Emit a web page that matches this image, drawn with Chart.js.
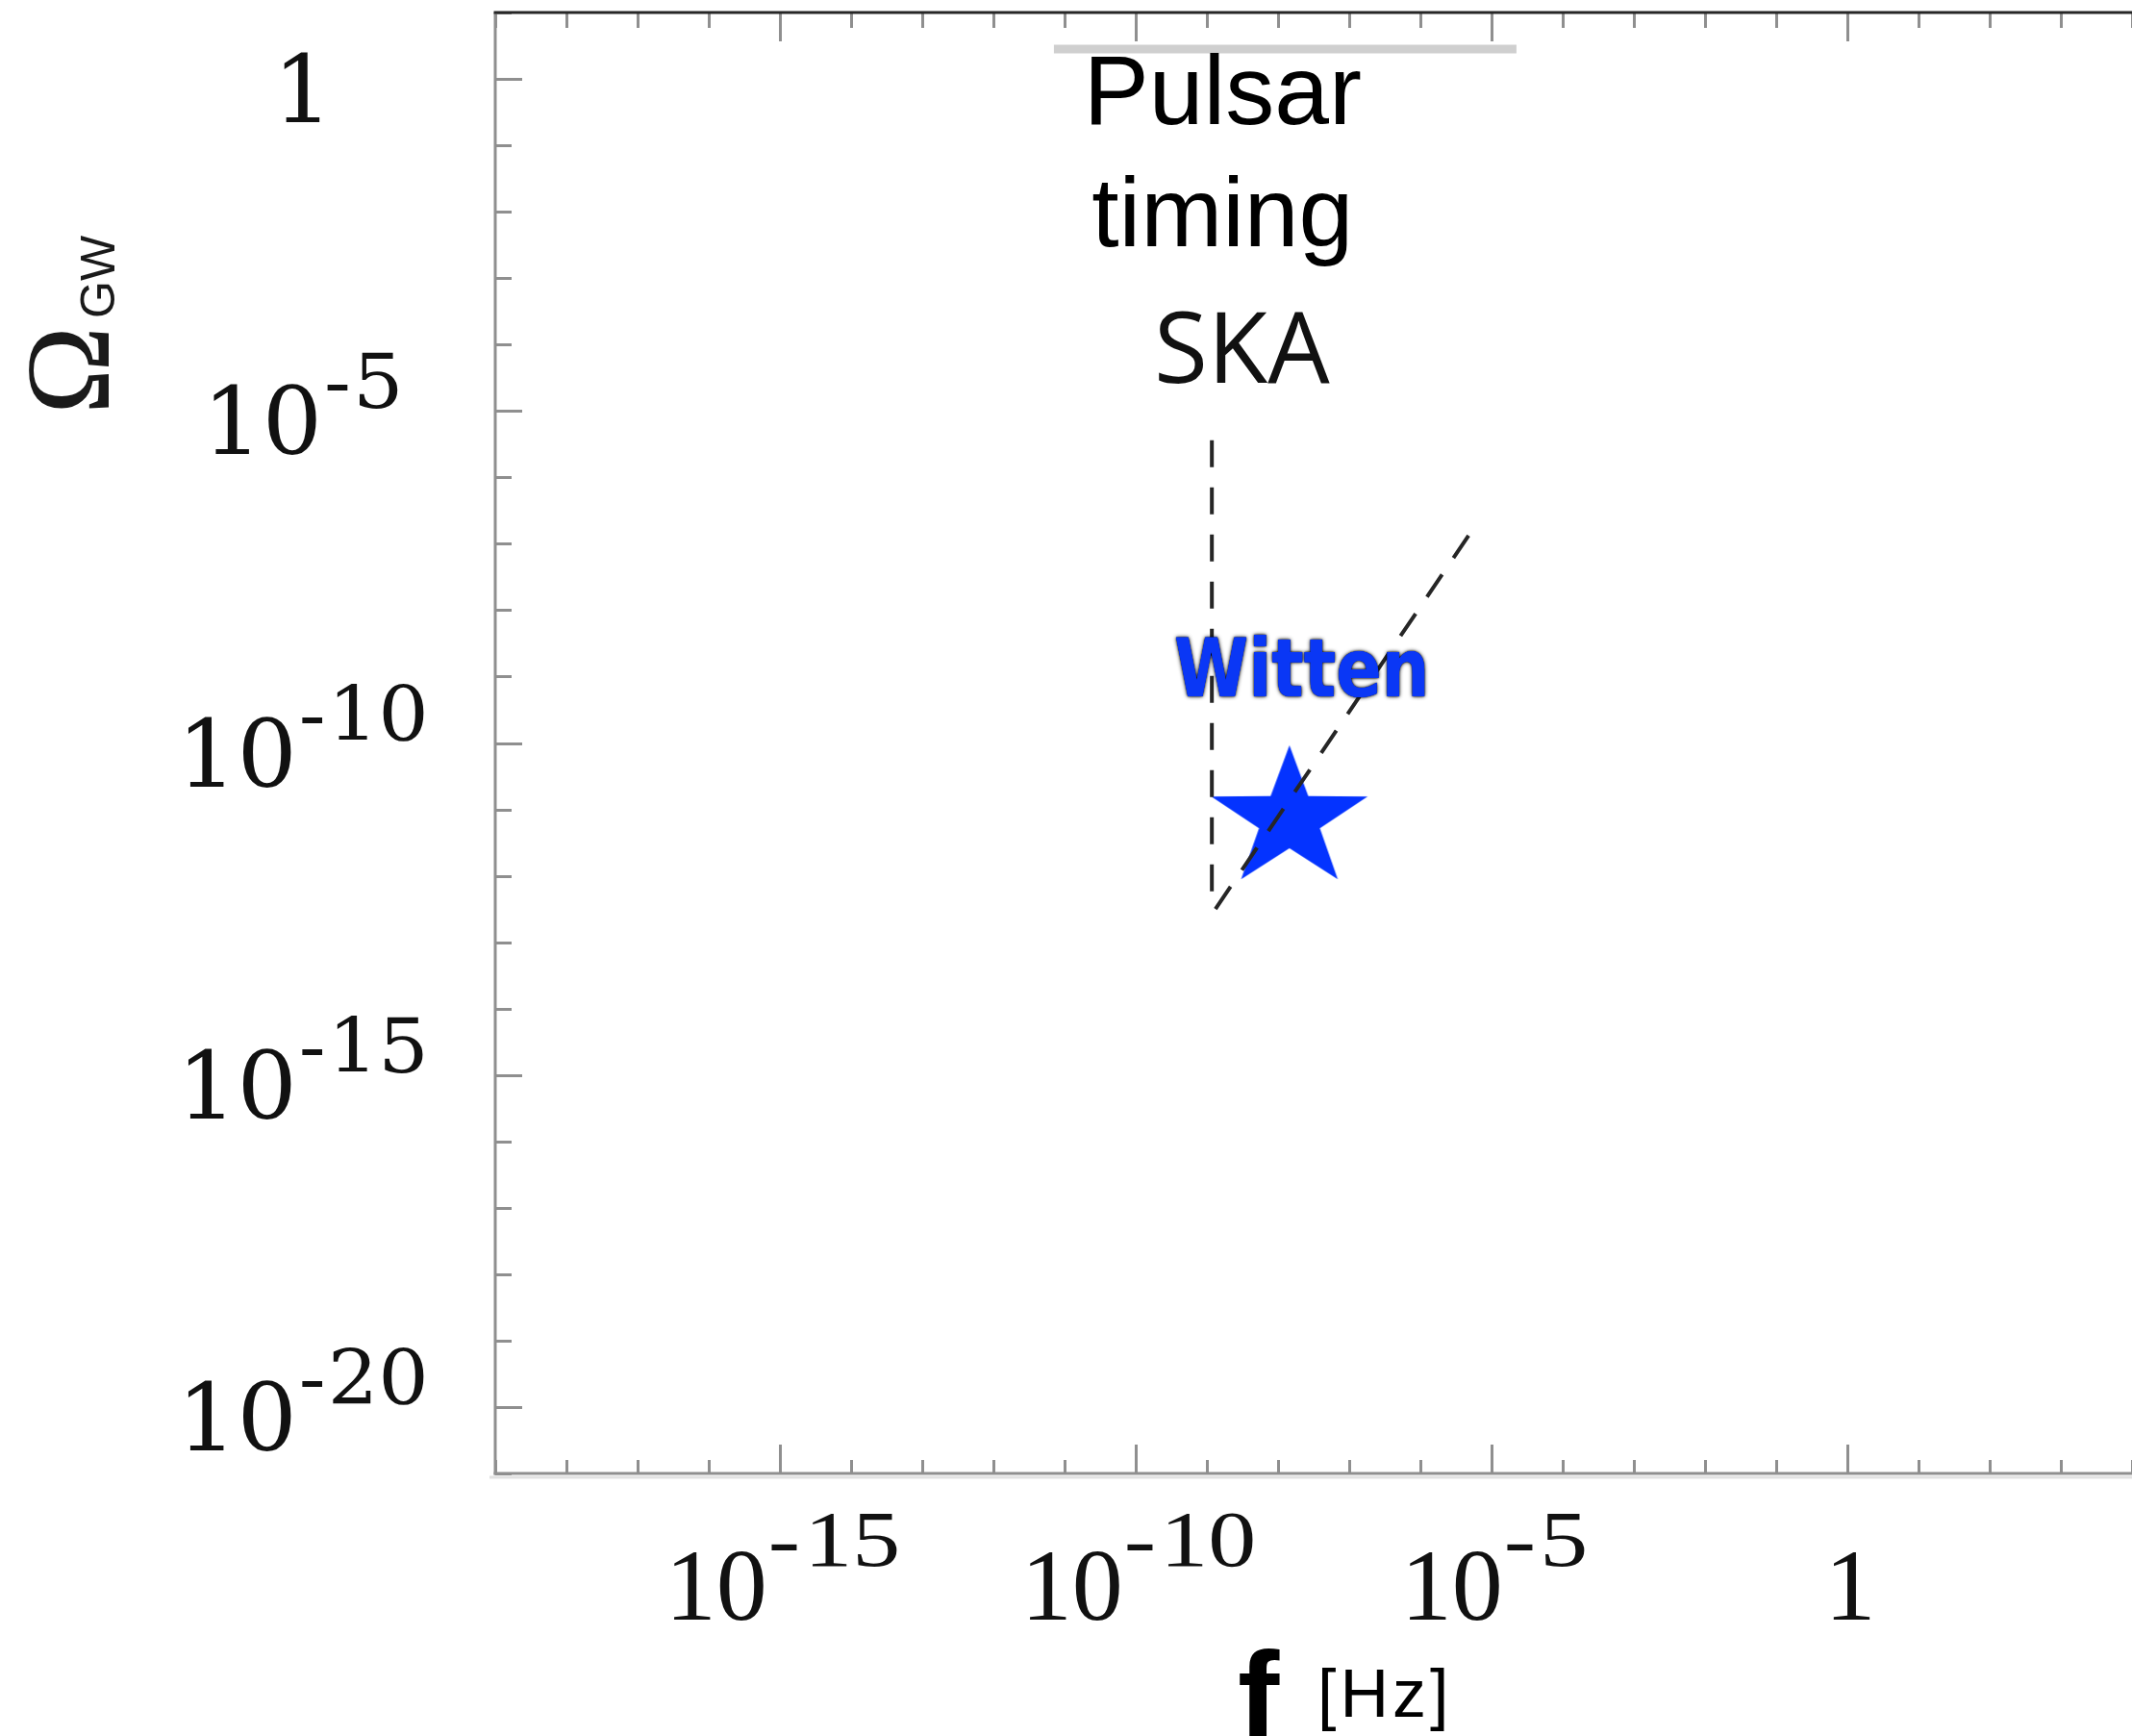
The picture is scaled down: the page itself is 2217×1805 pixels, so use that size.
<!DOCTYPE html>
<html>
<head>
<meta charset="utf-8">
<script src="https://cdn.jsdelivr.net/npm/chart.js@4/dist/chart.umd.min.js"></script>
<style>
  html, body { margin: 0; padding: 0; background: #ffffff; overflow: hidden; }
  canvas { display: block; }
</style>
</head>
<body>
<canvas id="chart" width="2217" height="1805"></canvas>
<script>
// Gravitational-wave energy density Ω_GW versus frequency f [Hz]

// SKA pulsar-timing sensitivity edge (vertical part and rising part)
const skaEdgeF     = [1.175e-9, 1.175e-9];
const skaEdgeOmega = [3.63e-6, 3.55e-13];
const skaSlopeF     = [1.32e-9, 5.25e-6];
const skaSlopeOmega = [3.16e-13, 1.55e-7];

// grey band along the top of the panel
const topBandF     = [7.08e-12, 2.24e-5];
const topBandOmega = [2.82, 2.82];

// Witten estimate
const wittenF     = [1.445e-8];
const wittenOmega = [7.08e-12];

// axis ranges and labelled decades (exponents of ten)
const xRange = [1e-19, 1e4];
const yRange = [1e-21, 1e1];
const xTickExponents = [-15, -10, -5, 0];
const yTickExponents = [0, -5, -10, -15, -20];

const zip = (xs, ys) => xs.map((v, i) => ({ x: v, y: ys[i] }));

// filled five-pointed star used as the marker
function makeStar(R, rIn, sx, color) {
  const c = document.createElement('canvas');
  const w = Math.ceil(2 * R * 0.951 * sx) + 4, h = 2 * R + 4;
  c.width = w; c.height = h;
  const g = c.getContext('2d');
  g.translate(w / 2, h / 2);
  g.beginPath();
  for (let k = 0; k < 10; k++) {
    const a = -Math.PI / 2 + k * Math.PI / 5;
    const r = (k % 2) ? rIn : R;
    g.lineTo(Math.cos(a) * r * sx, Math.sin(a) * r);
  }
  g.closePath();
  g.fillStyle = color;
  g.fill();
  return c;
}
const starMarker = makeStar(77, 30, 1.11, '#0433ff');

// "10" with a raised exponent, centred on cx
function drawPower(ctx, cx, baseline, exp, o) {
  ctx.textBaseline = 'alphabetic';
  ctx.textAlign = 'left';
  if (exp === 0) {
    ctx.font = o.main;
    const w = ctx.measureText('1').width;
    ctx.fillText('1', cx - w / 2, baseline);
    return;
  }
  ctx.font = o.main;
  const wMain = ctx.measureText('10').width;
  ctx.font = o.sup;
  const wMinus = ctx.measureText('-').width * o.supScale;
  const digits = String(Math.abs(exp));
  const wDig = ctx.measureText(digits).width * o.supScale;
  const total = wMain + o.gap + wMinus + o.minusGap + wDig;
  const x0 = cx - total / 2;
  ctx.font = o.main;
  ctx.fillText('10', x0, baseline);
  ctx.font = o.sup;
  const drawSup = (t, px) => {
    ctx.save();
    ctx.translate(px, baseline - o.rise);
    ctx.scale(o.supScale, 1);
    ctx.fillText(t, 0, 0);
    ctx.restore();
  };
  drawSup('-', x0 + wMain + o.gap);
  drawSup(digits, x0 + wMain + o.gap + wMinus + o.minusGap);
}

const frame = {
  id: 'frame',
  beforeDatasetsDraw(chart) {
    const { ctx, chartArea: a, scales: { x, y } } = chart;
    ctx.save();
    ctx.lineCap = 'butt';
    const seg = (x1, y1, x2, y2) => { ctx.beginPath(); ctx.moveTo(x1, y1); ctx.lineTo(x2, y2); ctx.stroke(); };

    // inward tick marks, one per decade, longer every fifth decade
    ctx.strokeStyle = '#8f8f8f';
    ctx.lineWidth = 3;
    const yLo = Math.round(Math.log10(yRange[0])), yHi = Math.round(Math.log10(yRange[1]));
    for (let e = yLo; e <= yHi; e++) {
      const py = Math.round(y.getPixelForValue(Math.pow(10, e))) + 0.5;
      const major = e % 5 === 0;
      seg(a.left, py, a.left + (major ? 28 : 17), py);
    }
    const xLo = Math.round(Math.log10(xRange[0])), xHi = Math.round(Math.log10(xRange[1]));
    for (let e = xLo; e <= xHi; e++) {
      const px = Math.round(x.getPixelForValue(Math.pow(10, e))) + 0.5;
      const major = e % 5 === 0;
      seg(px, a.bottom, px, a.bottom - (major ? 30 : 14));
      seg(px, a.top, px, a.top + (major ? 30 : 16));
    }

    // axis lines
    ctx.strokeStyle = '#e2e2e2';
    ctx.lineWidth = 3;
    seg(a.left - 6, a.bottom + 4, a.right, a.bottom + 4);
    ctx.strokeStyle = '#8f8f8f';
    ctx.lineWidth = 3;
    seg(a.left, a.top, a.left, a.bottom + 1.5);
    seg(a.left - 1.5, a.bottom, a.right, a.bottom);
    ctx.strokeStyle = '#262626';
    ctx.lineWidth = 3;
    seg(a.left - 1.5, a.top, a.right, a.top);
    ctx.restore();
  },
  afterDraw(chart) {
    const { ctx, chartArea: a, scales: { x, y } } = chart;
    ctx.save();
    ctx.fillStyle = '#111111';

    // tick labels
    for (const e of yTickExponents) {
      const py = y.getPixelForValue(Math.pow(10, e));
      drawPower(ctx, a.left - 200, py + 45, e, {
        main: '98px "DejaVu Serif"', sup: '78px "DejaVu Serif"',
        rise: 48, gap: 2, minusGap: 2, supScale: 1.06
      });
    }
    for (const e of xTickExponents) {
      const px = x.getPixelForValue(Math.pow(10, e));
      drawPower(ctx, px + 3, a.bottom + 152, e, {
        main: '106px "Liberation Serif"', sup: '82px "Liberation Serif"',
        rise: 56, gap: 1, minusGap: 4, supScale: 1.22
      });
    }

    // y-axis title Ω_GW, reading upwards
    ctx.save();
    ctx.translate(113, 431);
    ctx.rotate(-Math.PI / 2);
    ctx.textAlign = 'left';
    ctx.textBaseline = 'alphabetic';
    ctx.fillStyle = '#1a1a1a';
    ctx.font = '124px "Liberation Serif"';
    ctx.fillText('Ω', 0, 0);
    ctx.font = '50px "Liberation Sans"';
    ctx.fillText('GW', 100, 6);
    ctx.restore();

    // x-axis title f [Hz]
    ctx.textAlign = 'left';
    ctx.fillStyle = '#000000';
    ctx.font = 'bold 130px "Liberation Sans"';
    ctx.fillText('f', 1287, 1808);
    ctx.font = '70px "Liberation Sans Narrow", "Liberation Sans"';
    ctx.letterSpacing = '4px';
    ctx.fillText('[Hz]', 1370, 1785);
    ctx.letterSpacing = '0px';

    // detector annotation
    const pulsarX = x.getPixelForValue(1.66e-9);
    ctx.textAlign = 'center';
    ctx.font = '102px "Liberation Sans"';
    ctx.fillText('Pulsar', pulsarX, a.top + 116);
    ctx.fillText('timing', pulsarX, a.top + 243);
    ctx.font = '102px "Open Sans"';
    ctx.fillStyle = '#111111';
    ctx.fillText('SKA', x.getPixelForValue(3.1e-9), a.top + 385);

    // label above the Witten marker
    const sx = x.getPixelForValue(wittenF[0]);
    const sy = y.getPixelForValue(wittenOmega[0]);
    ctx.save();
    ctx.translate(sx + 13, sy - 128);
    ctx.scale(1, 1.2);
    ctx.font = 'bold 70px "DejaVu Sans"';
    ctx.textAlign = 'center';
    ctx.shadowColor = 'rgba(0,0,0,0.95)';
    ctx.shadowBlur = 4;
    ctx.fillStyle = '#0a37f5';
    ctx.fillText('Witten', 0, 0);
    ctx.shadowBlur = 2;
    ctx.fillText('Witten', 0, 0);
    ctx.shadowColor = 'transparent';
    ctx.fillText('Witten', 0, 0);
    ctx.restore();

    ctx.restore();
  }
};

new Chart(document.getElementById('chart'), {
  type: 'scatter',
  data: {
    datasets: [
      {
        label: 'Top band',
        data: zip(topBandF, topBandOmega),
        showLine: true,
        borderColor: '#cfcfcf',
        borderWidth: 9,
        borderCapStyle: 'butt',
        pointRadius: 0
      },
      {
        label: 'SKA edge',
        data: zip(skaEdgeF, skaEdgeOmega),
        showLine: true,
        borderColor: '#262626',
        borderWidth: 4,
        borderDash: [28, 21],
        borderCapStyle: 'butt',
        pointRadius: 0
      },
      {
        label: 'SKA slope',
        data: zip(skaSlopeF, skaSlopeOmega),
        showLine: true,
        borderColor: '#262626',
        borderWidth: 4,
        borderDash: [28, 21],
        borderCapStyle: 'butt',
        pointRadius: 0
      },
      {
        label: 'Witten',
        data: zip(wittenF, wittenOmega),
        pointStyle: starMarker,
        pointRadius: 10,
        showLine: false
      }
    ]
  },
  options: {
    responsive: false,
    animation: false,
    devicePixelRatio: 1,
    layout: { autoPadding: false, padding: { left: 515, top: 13, right: 0, bottom: 273 } },
    scales: {
      x: { type: 'logarithmic', min: xRange[0], max: xRange[1], display: false },
      y: { type: 'logarithmic', min: yRange[0], max: yRange[1], display: false }
    },
    plugins: {
      legend: { display: false },
      tooltip: { enabled: false }
    }
  },
  plugins: [frame]
});
</script>
</body>
</html>
